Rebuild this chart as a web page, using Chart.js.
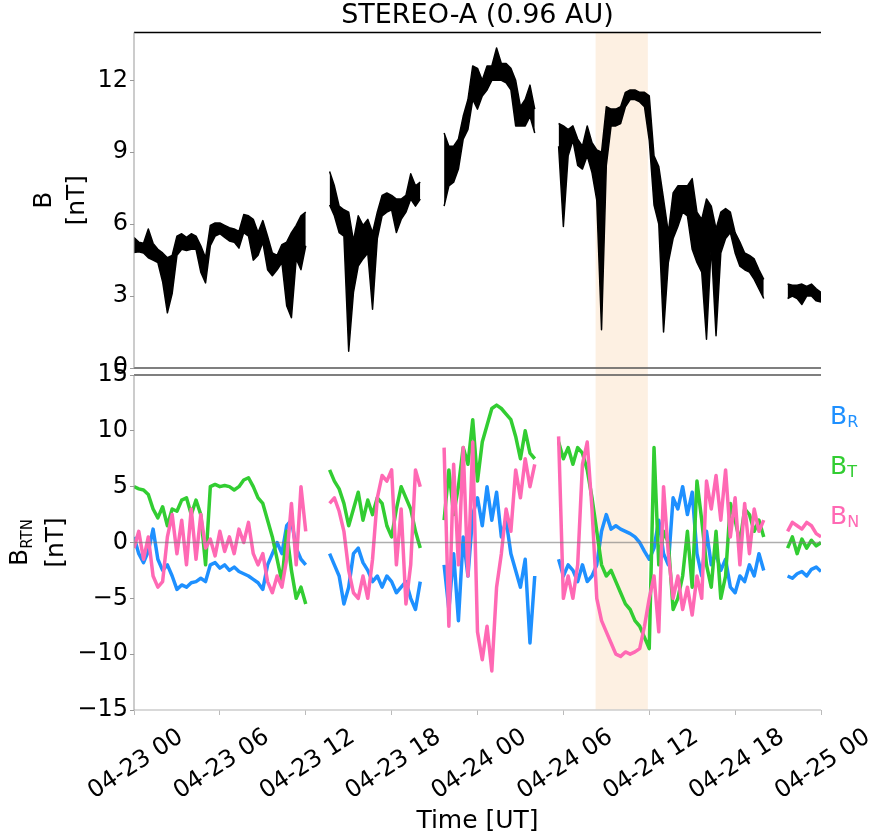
<!DOCTYPE html>
<html>
<head>
<meta charset="utf-8">
<script src="https://cdn.jsdelivr.net/npm/chart.js@4.4.1/dist/chart.umd.min.js"></script>
<style>
  body { margin: 0; background: #fff; }
  #wrap { position: relative; width: 873px; height: 838px; background: #fff; }
  #topChart { position: absolute; left: 0; top: 0; }
  #bottomChart { position: absolute; left: 0; top: 340px; }
</style>
</head>
<body>
<div id="wrap">
  <canvas id="topChart" width="873" height="390"></canvas>
  <canvas id="bottomChart" width="873" height="498"></canvas>
</div>
<script>
// STEREO-A magnetometer, one reading every 20 min from 04-23 00 UT (null = data gap)
const B_hi = [
  5.44, 5.25, 5.2, 5.8, 5.2, 4.95, 4.8, 4.6, 4.7, 5.5, 5.6, 5.45,
  5.6, 5.5, 5.1, 4.6, 5.95, 6.05, 6.05, 5.95, 5.85, 5.8, 5.7, 6.4,
  6.35, 6.2, 5.65, 6.15, 5.5, 4.8, 4.7, 5.15, 5.25, 5.65, 5.95, 6.35,
  6.5, null, null, null, null, 8.2, 7.6, 6.75, 6.6, 6.5, 5.3, 6.35,
  5.95, 6.2, 5.65, 6.5, 7.2, 7.3, 7.2, 7.05, 7.05, 7.2, 8.1, 7.6,
  7.75, null, null, null, null, 9.8, 9.25, 9.25, 9.55, 10.5, 11.2, 12.6,
  12.5, 12.0, 12.6, 12.6, 13.35, 12.7, 12.7, 12.5, 12.0, 10.9, 11.2, 11.8,
  10.8, null, null, null, null, 10.2, 10.1, 9.95, 10.1, 9.55, 9.25, 10.1,
  9.4, 9.1, 9.0, 10.9, 10.8, 10.8, 10.9, 11.5, 11.6, 11.6, 11.5, 11.5,
  11.35, 8.85, 8.4, 7.05, 5.65, 7.3, 7.6, 7.6, 7.6, 7.9, 6.5, 6.2,
  7.05, 6.75, 5.8, 6.5, 6.65, 6.5, 5.65, 5.25, 4.8, 4.7, 4.55, 4.1,
  3.7, null, null, null, null, 3.5, 3.45, 3.45, 3.5, 3.4, 3.5, 3.3,
  3.15
];
const B_lo = [
  4.82, 4.85, 4.8, 4.6, 4.5, 4.4, 3.6, 2.3, 3.1, 4.7, 4.95, 4.9,
  4.95, 4.95, 4.0, 3.55, 5.1, 5.5, 5.6, 5.45, 5.3, 5.25, 5.0, 5.65,
  5.5, 4.5, 4.7, 5.25, 4.1, 3.85, 4.1, 4.4, 2.6, 2.1, 4.55, 4.1,
  5.1, null, null, null, null, 6.8, 6.35, 5.65, 5.5, 0.7, 3.15, 4.25,
  4.55, 4.8, 2.45, 5.4, 6.35, 6.5, 6.6, 5.65, 6.2, 6.5, 7.05, 6.75,
  7.05, null, null, null, null, 6.75, 7.6, 7.75, 8.3, 9.55, 9.95, 11.2,
  10.8, 11.35, 11.6, 12.0, 12.0, 12.0, 11.9, 11.6, 10.1, 10.1, 10.1, 10.5,
  9.8, null, null, null, null, 9.25, 5.9, 8.85, 9.5, 8.45, 8.3, 8.85,
  8.15, 7.0, 1.6, 8.45, 10.1, 10.1, 10.2, 10.9, 11.2, 11.2, 11.1, 10.9,
  9.5, 6.8, 6.0, 1.5, 4.4, 5.4, 5.9, 6.5, 6.35, 4.95, 4.4, 4.0,
  1.2, 5.1, 1.35, 4.8, 5.4, 5.65, 4.8, 4.25, 4.1, 4.0, 3.7, 3.3,
  2.9, null, null, null, null, 2.9, 3.0, 2.9, 2.65, 3.0, 3.0, 2.8,
  2.75
];
const BR = [
  0.5, -1.0, -1.8, -0.8, 1.2, -1.5, -2.5, -2.0, -3.0, -4.2, -3.8, -4.0,
  -3.6, -3.5, -3.2, -3.5, -2.0, -1.8, -2.3, -2.0, -2.5, -2.2, -2.6, -2.8,
  -3.0, -3.3, -3.6, -4.2, -2.0, -1.0, 0.0, -1.0, 1.5, 2.0, -0.5, -1.5,
  -2.0, null, null, null, null, -1.0, -2.0, -3.0, -5.5, -4.0, -1.0, -0.5,
  -1.8, -2.5, -3.5, -3.0, -4.0, -3.0, -3.5, -4.5, -4.0, -3.5, -5.0, -6.0,
  -3.5, null, null, null, null, -2.0, -6.0, -1.0, -7.0, 0.5, -3.0, 2.5,
  4.0, 1.5, 5.0, 2.0, 4.5, 0.5, 2.0, -1.0, -2.5, -4.0, -1.5, -9.0,
  -3.0, null, null, null, null, -1.5, -3.0, -2.0, -2.5, -3.5, -2.0, -3.5,
  -3.0, -2.0, 1.0, 2.5, 1.2, 1.5, 1.2, 1.0, 0.8, 0.5, 0.0, -0.8,
  -1.5, -0.5, 2.0, -1.0, -2.0, 4.0, 3.0, 5.0, 2.5, 4.5, -1.0, -3.0,
  1.0, -2.0, -1.0, -2.5, -1.5, -4.0, -4.5, -3.0, -3.5, -2.0, -3.0, -1.0,
  -2.5, null, null, null, null, -3.0, -3.2, -2.8, -2.6, -3.0, -2.4, -2.2,
  -2.6
];
const BT = [
  5.0, 4.8, 4.7, 4.3, 3.0, 2.2, 3.2, 1.5, 3.0, 2.8, 3.8, 4.0,
  2.5, 3.8, 2.5, -2.0, 5.0, 5.2, 5.0, 5.1, 5.0, 4.7, 5.0, 5.6,
  5.8, 5.0, 4.0, 3.5, 2.0, 0.5, -1.5, -3.5, 1.0, -2.5, -5.0, -4.0,
  -5.5, null, null, null, null, 6.5, 5.5, 4.8, 3.5, 1.5, 3.0, 4.5,
  2.0, 3.8, 2.5, 4.0, 3.5, 1.5, 0.5, 3.0, 5.0, 4.0, 3.0, 1.0,
  -0.5, null, null, null, null, 2.0, 6.5, 2.5, 5.0, 8.5, 7.0, 11.0,
  5.5, 9.0, 10.5, 12.0, 12.3, 12.0, 11.5, 11.0, 9.5, 7.5, 10.0, 8.0,
  7.5, null, null, null, null, 9.0, 7.5, 8.5, 7.0, 8.5, 8.0, 6.5,
  4.0, 1.0, -2.0, -3.0, -2.5, -3.5, -4.5, -5.5, -6.0, -7.0, -7.5, -8.5,
  -9.5, 8.5, -2.0, 1.0, 0.0, -6.0, -5.0, -3.0, 1.0, -4.0, 5.5, 2.0,
  -2.0, -4.0, 1.0, -5.0, -3.0, 3.5, 2.0, 0.0, 3.0, 2.5, 1.0, 2.0,
  0.5, null, null, null, null, -0.5, 0.5, -1.0, 0.3, -0.5, 0.2, -0.3,
  0.0
];
const BN = [
  -0.5, 1.0, -1.5, 0.5, -3.0, -4.0, -3.5, 0.5, 2.5, -1.0, 2.0, -2.0,
  3.0, -1.5, 2.5, -0.5, 0.3, -1.2, 1.0, -0.8, 0.5, -1.0, 1.2, 0.0,
  1.8, -1.0, -2.0, -1.0, -3.5, -4.5, -3.0, -4.0, -1.5, 3.5, -2.0, 5.0,
  1.0, null, null, null, null, 3.5, 4.0, 2.8, 1.0, -2.5, -4.5, -5.0,
  -3.0, -5.0, -1.5, 4.0, 6.0, 5.5, 6.5, -2.0, 3.0, -5.5, -2.0, 6.5,
  5.0, null, null, null, null, 8.5, -7.5, 7.0, -2.0, 8.5, -3.0, 9.0,
  -8.0, -10.5, -7.5, -11.5, -4.0, -1.0, 3.0, 1.0, 6.5, 4.0, 7.5, 5.0,
  7.0, null, null, null, null, 9.5, -5.0, -3.0, -5.0, -2.0, 7.0, 9.0,
  3.0, -5.0, -7.0, -8.0, -9.0, -10.0, -10.2, -9.8, -10.0, -9.8, -9.5, -7.5,
  -5.0, -3.0, -8.0, 5.0, -1.0, -5.0, -3.0, -6.0, -4.0, -6.5, -3.0, -5.0,
  5.5, 3.0, 6.0, 2.0, 6.5, 0.5, 4.0, -2.0, 3.5, -1.0, 3.0, 1.0,
  2.0, null, null, null, null, 1.0, 1.8, 1.5, 1.2, 1.8, 1.5, 0.8,
  0.5
];

// sample times in hours since 04-23 00 UT
const hours = B_hi.map((_, i) => i / 3);

const tickHours = [0, 6, 12, 18, 24, 30, 36, 42, 48];
const tickLabels = ["04-23 00", "04-23 06", "04-23 12", "04-23 18", "04-24 00",
                    "04-24 06", "04-24 12", "04-24 18", "04-25 00"];
const topTicks = [0, 3, 6, 9, 12];
const bottomTicks = [-15, -10, -5, 0, 5, 10, 15];
const shadeHours = [32.25, 35.9];   // highlighted interval

const FONT = "'DejaVu Sans', sans-serif";
const colors = { R: "#1e90ff", T: "#32cd32", N: "#ff69b4" };

Chart.defaults.font.family = FONT;
Chart.defaults.color = "#000";

// fondo sombreado del intervalo
const shadeBand = {
    id: "shadeBand",
    beforeDatasetsDraw(chart, args, opts) {
        const { ctx, chartArea, scales } = chart;
        const x1 = scales.x.getPixelForValue(shadeHours[0]);
        const x2 = scales.x.getPixelForValue(shadeHours[1]);
        const y1 = chartArea.top;
        const y2 = chartArea.bottom + (opts.extendDown || 0);
        ctx.save();
        ctx.fillStyle = "rgba(245,180,110,0.2)";
        ctx.fillRect(x1, y1, x2 - x1, y2 - y1);
        ctx.restore();
    },
};

// marco de los paneles + linea de cero
const frame = {
    id: "frame",
    afterDatasetsDraw(chart, args, opts) {
        const { ctx, chartArea: a, scales } = chart;
        ctx.save();
        if (opts.zeroLine) {
            const y0 = scales.y.getPixelForValue(0);
            ctx.strokeStyle = "rgba(120,120,120,0.6)";
            ctx.lineWidth = 1.5;
            ctx.beginPath(); ctx.moveTo(a.left, y0); ctx.lineTo(a.right, y0); ctx.stroke();
        }
        const line = (x1, y1, x2, y2, c, w) => {
            ctx.strokeStyle = c; ctx.lineWidth = w;
            ctx.beginPath(); ctx.moveTo(x1, y1); ctx.lineTo(x2, y2); ctx.stroke();
        };
        line(a.left, a.top, a.right, a.top, opts.top, 1.5);
        line(a.left, a.bottom, a.right, a.bottom, opts.bottom, 1.5);
        line(a.left, a.top, a.left, a.bottom, "#999", 1);
        ctx.restore();
    },
};

// texto con subindices (etiquetas de eje y leyenda)
function drawParts(ctx, x, y, parts, color, vertical) {
    ctx.save();
    ctx.translate(x, y);
    if (vertical) ctx.rotate(-Math.PI / 2);
    let total = 0;
    parts.forEach((p) => {
        ctx.font = p.size + "px " + FONT;
        p.w = ctx.measureText(p.text).width;
        total += p.w;
    });
    let cx = vertical ? -total / 2 : 0;
    ctx.fillStyle = color;
    ctx.textAlign = "left";
    ctx.textBaseline = "middle";
    parts.forEach((p) => {
        ctx.font = p.size + "px " + FONT;
        ctx.fillText(p.text, cx, p.dy || 0);
        cx += p.w;
    });
    ctx.restore();
}

const sideText = {
    id: "sideText",
    afterDraw(chart, args, opts) {
        const { ctx, chartArea } = chart;
        const yc = (chartArea.top + chartArea.bottom) / 2;
        opts.yLabel.forEach((l) => drawParts(ctx, l.x, yc, l.parts, "#000", true));
        (opts.legend || []).forEach((l) => drawParts(ctx, l.x, l.y, l.parts, l.color, false));
    },
};

const minus = (v) => String(v).replace("-", "\u2212");

const yAxisBase = {
    border: { display: false },
    grid: { display: true, drawOnChartArea: false, drawTicks: true, tickLength: 4, color: "#999" },
    afterFit(scale) {
        scale.width = 134;
        scale.paddingTop = 0;
        scale.paddingBottom = 0;
    },
};

// ---------- panel superior: |B| ----------
new Chart(document.getElementById("topChart").getContext("2d"), {
    type: "line",
    data: {
        labels: hours,
        datasets: [
            { data: B_lo, borderColor: "#000", borderWidth: 1.5, fill: false },
            { data: B_hi, borderColor: "#000", borderWidth: 1.5, backgroundColor: "#000", fill: "-1" },
        ],
    },
    options: {
        responsive: false,
        animation: false,
        spanGaps: false,
        layout: { padding: { left: 0, right: 52, top: 0, bottom: 22 } },
        elements: { point: { radius: 0 }, line: { tension: 0, borderJoinStyle: "round" } },
        scales: {
            x: { type: "linear", min: 0, max: 48, display: false },
            y: {
                ...yAxisBase,
                min: 0,
                max: 14,
                afterBuildTicks(scale) { scale.ticks = topTicks.map((v) => ({ value: v })); },
                ticks: { font: { size: 24 }, padding: 2, callback: (v) => minus(v) },
            },
        },
        plugins: {
            legend: { display: false },
            tooltip: { enabled: false },
            title: {
                display: true,
                text: "STEREO-A (0.96 AU)",
                fullSize: false,
                font: { size: 27, weight: "normal" },
                color: "#000",
                padding: { top: 0, bottom: 0 },
            },
            shadeBand: { extendDown: 7 },
            frame: { top: "#000", bottom: "#555" },
            sideText: {
                yLabel: [
                    { x: 44, parts: [{ text: "B", size: 25 }] },
                    { x: 77, parts: [{ text: "[nT]", size: 25 }] },
                ],
            },
        },
    },
    plugins: [shadeBand, frame, sideText],
});

// ---------- panel inferior: B_RTN ----------
new Chart(document.getElementById("bottomChart").getContext("2d"), {
    type: "line",
    data: {
        labels: hours,
        datasets: [
            { label: "BN", data: BN, borderColor: colors.N, borderWidth: 3.5, fill: false },
            { label: "BT", data: BT, borderColor: colors.T, borderWidth: 3.5, fill: false },
            { label: "BR", data: BR, borderColor: colors.R, borderWidth: 3.5, fill: false },
        ],
    },
    options: {
        responsive: false,
        animation: false,
        spanGaps: false,
        layout: { padding: { left: 0, right: 52, top: 35, bottom: 0 } },
        elements: { point: { radius: 0 }, line: { tension: 0, borderJoinStyle: "round" } },
        scales: {
            x: {
                type: "linear",
                min: 0,
                max: 48,
                border: { display: false },
                grid: { display: true, drawOnChartArea: false, drawTicks: true, tickLength: 5, color: "#bbb" },
                afterBuildTicks(scale) { scale.ticks = tickHours.map((v) => ({ value: v })); },
                afterFit(scale) { scale.height = 128; },
                ticks: {
                    autoSkip: false,
                    minRotation: 33,
                    maxRotation: 33,
                    labelOffset: 47,
                    padding: 8,
                    font: { size: 24 },
                    callback: (v, i) => tickLabels[i],
                },
                title: { display: true, text: "Time [UT]", font: { size: 25 }, padding: { top: 0, bottom: 2 } },
            },
            y: {
                ...yAxisBase,
                min: -15,
                max: 15,
                afterBuildTicks(scale) { scale.ticks = bottomTicks.map((v) => ({ value: v })); },
                ticks: { font: { size: 24 }, padding: 2, callback: (v) => minus(v) },
            },
        },
        plugins: {
            legend: { display: false },
            tooltip: { enabled: false },
            shadeBand: {},
            frame: { top: "#555", bottom: "#ccc", zeroLine: true },
            sideText: {
                yLabel: [
                    { x: 20, parts: [{ text: "B", size: 25 }, { text: "RTN", size: 15, dy: 8 }] },
                    { x: 56, parts: [{ text: "[nT]", size: 25 }] },
                ],
                legend: [
                    { x: 830, y: 77, color: colors.R, parts: [{ text: "B", size: 25 }, { text: "R", size: 16, dy: 6 }] },
                    { x: 830, y: 127, color: colors.T, parts: [{ text: "B", size: 25 }, { text: "T", size: 16, dy: 6 }] },
                    { x: 830, y: 177, color: colors.N, parts: [{ text: "B", size: 25 }, { text: "N", size: 16, dy: 6 }] },
                ],
            },
        },
    },
    plugins: [shadeBand, frame, sideText],
});
</script>
</body>
</html>
